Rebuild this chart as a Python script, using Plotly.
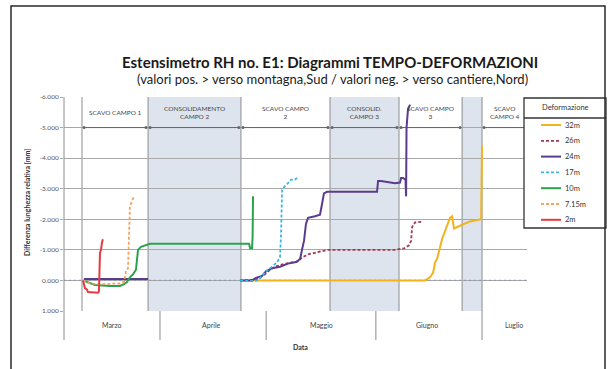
import pandas as pd
import plotly.graph_objects as go

# ---------------------------------------------------------------- data
x_start = "2010-03-04 21:00"
x_end = "2010-07-13 17:00"

y_tickvals = [-6, -5, -4, -3, -2, -1, 0, 1]
y_ticktext = ["-6.000", "-5.000", "-4.000", "-3.000", "-2.000", "-1.000", "0.000", "1.000"]

month_names = ["Marzo", "Aprile", "Maggio", "Giugno", "Luglio"]
month_starts = ["2010-04-01", "2010-05-01", "2010-06-01", "2010-07-01"]
month_label_dates = ["2010-03-18 10:00", "2010-04-15 12:00", "2010-05-16 12:00",
                     "2010-06-15 12:00", "2010-07-10 00:00"]

phase_names = ["SCAVO CAMPO 1", "CONSOLIDAMENTO<br>CAMPO 2", "SCAVO CAMPO<br>2",
               "CONSOLID.<br>CAMPO 3", "SCAVO CAMPO<br>3", "", "SCAVO<br>CAMPO 4"]
phase_starts = ["2010-03-09 23:00", "2010-03-28 15:00", "2010-04-23 21:00",
                "2010-05-19 01:00", "2010-06-07 13:00", "2010-06-25 09:00",
                "2010-07-01 00:00"]
phase_shaded = [False, True, False, True, False, True, False]

series_names = ["32m", "26m", "24m", "17m", "10m", "7.15m", "2m"]
series_colors = ["#F2B31E", "#A33A50", "#5A3C8F", "#3CB6E4", "#2CA24E", "#F5A55E", "#E63A40"]
series_dash = ["solid", "3px,2px", "solid", "3px,2px", "solid", "3px,2px", "solid"]

dates_32m = ["2010-04-23 15:00", "2010-06-14 22:00", "2010-06-16 07:00", "2010-06-17 04:00",
             "2010-06-17 18:00", "2010-06-18 07:00", "2010-06-19 17:00", "2010-06-21 03:00",
             "2010-06-21 23:00", "2010-06-22 13:00", "2010-06-23 02:00", "2010-06-25 09:00",
             "2010-06-27 15:00", "2010-06-30 18:00", "2010-07-01 00:00"]
vals_32m = [0.0, 0.0, -0.1, -0.25, -0.6, -0.7, -1.35, -1.8, -2.05, -2.1, -1.7, -1.82,
            -1.93, -2.0, -4.4]

dates_26m = ["2010-04-23 15:00", "2010-04-27 20:00", "2010-04-29 06:00", "2010-04-30 16:00",
             "2010-05-02 02:00", "2010-05-03 12:00", "2010-05-06 08:00", "2010-05-10 00:00",
             "2010-05-11 03:00", "2010-05-12 20:00", "2010-05-15 16:00", "2010-05-18 12:00",
             "2010-06-06 10:00", "2010-06-08 23:00", "2010-06-10 09:00", "2010-06-10 23:00",
             "2010-06-11 06:00", "2010-06-12 02:00", "2010-06-14 08:00"]
vals_26m = [0.0, -0.02, -0.1, -0.2, -0.35, -0.45, -0.55, -0.62, -0.75, -0.85, -0.93, -1.0,
            -1.0, -1.05, -1.15, -1.3, -1.75, -1.9, -1.92]

dates_24m = ["2010-03-10 12:00", "2010-03-28 15:00", None,
             "2010-04-23 15:00", "2010-04-27 00:00", "2010-04-28 03:00", "2010-04-29 20:00",
             "2010-04-30 23:00", "2010-05-02 16:00", "2010-05-04 22:00", "2010-05-07 04:00",
             "2010-05-09 11:00", "2010-05-10 14:00", "2010-05-11 03:00", "2010-05-11 17:00",
             "2010-05-12 06:00", "2010-05-12 20:00", "2010-05-14 19:00", "2010-05-16 05:00",
             "2010-05-16 19:00", "2010-05-17 08:00", "2010-05-18 05:00", "2010-06-01 08:00",
             "2010-06-01 15:00", "2010-06-02 11:00", "2010-06-06 10:00", "2010-06-07 20:00",
             "2010-06-08 03:00", "2010-06-08 16:00", "2010-06-09 09:00", "2010-06-09 13:00",
             "2010-06-09 16:00", "2010-06-10 02:00", "2010-06-10 16:00"]
vals_24m = [-0.05, -0.05, None,
            0.0, 0.0, -0.08, -0.15, -0.3, -0.4, -0.45, -0.55, -0.6, -0.7, -1.0, -1.3,
            -1.85, -2.05, -2.1, -2.15, -2.5, -2.85, -2.9, -2.9, -3.25, -3.25, -3.18, -3.2,
            -3.35, -3.35, -3.3, -2.75, -5.0, -5.6, -5.75]

dates_17m = ["2010-04-23 15:00", "2010-04-26 11:00", "2010-04-28 17:00", "2010-04-29 20:00",
             "2010-04-30 23:00", "2010-05-02 16:00", "2010-05-04 02:00", "2010-05-04 22:00",
             "2010-05-05 05:00", "2010-05-05 12:00", "2010-05-06 01:00", "2010-05-06 22:00",
             "2010-05-08 01:00", "2010-05-09 04:00", "2010-05-10 00:00"]
vals_17m = [0.0, 0.02, 0.0, -0.15, -0.3, -0.45, -0.6, -0.75, -1.5, -2.95, -3.05, -3.15,
            -3.3, -3.3, -3.38]

dates_10m = ["2010-03-10 06:00", "2010-03-12 05:00", "2010-03-13 15:00", "2010-03-17 21:00",
             "2010-03-20 17:00", "2010-03-21 20:00", "2010-03-22 16:00", "2010-03-23 12:00",
             "2010-03-24 09:00", "2010-03-25 05:00", "2010-03-25 12:00", "2010-03-25 19:00",
             "2010-03-26 15:00", "2010-03-27 18:00", "2010-03-29 04:00", "2010-04-12 07:00",
             "2010-04-26 04:00", "2010-04-26 11:00", "2010-04-27 00:00", "2010-04-27 04:00",
             "2010-04-27 07:00"]
vals_10m = [0.0, 0.1, 0.15, 0.18, 0.18, 0.12, 0.05, -0.1, -0.2, -0.35, -0.8, -1.0, -1.1,
            -1.15, -1.2, -1.2, -1.2, -1.05, -1.05, -1.4, -2.75]

dates_7m = ["2010-03-10 06:00", "2010-03-12 05:00", "2010-03-15 01:00", "2010-03-17 21:00",
            "2010-03-20 17:00", "2010-03-21 20:00", "2010-03-22 09:00", "2010-03-22 23:00",
            "2010-03-23 06:00", "2010-03-23 12:00", "2010-03-24 02:00", "2010-03-24 16:00"]
vals_7m = [0.0, 0.1, 0.12, 0.12, 0.1, 0.05, -0.3, -0.4, -1.5, -2.4, -2.6, -2.75]

dates_2m = ["2010-03-10 06:00", "2010-03-10 19:00", "2010-03-11 09:00", "2010-03-11 16:00",
            "2010-03-14 12:00", "2010-03-14 18:00", "2010-03-15 01:00", "2010-03-15 08:00",
            "2010-03-15 15:00", "2010-03-15 21:00"]
vals_2m = [0.0, 0.25, 0.3, 0.38, 0.4, 0.35, -0.9, -1.0, -1.25, -1.35]

series_dates = [dates_32m, dates_26m, dates_24m, dates_17m, dates_10m, dates_7m, dates_2m]
series_vals = [vals_32m, vals_26m, vals_24m, vals_17m, vals_10m, vals_7m, vals_2m]

# ------------------------------------------------------------- layout helpers
W, H = 616, 369
L, R, T, B = 64, 89, 97, 58
PW, PH = W - L - R, H - T - B
FONT = "Lato"


def px_x(px):
    return (px - L) / PW


def px_y(py):
    return (H - B - py) / PH


def label(x, y, text, size, xref="paper", yref="paper", color="#333333", **kw):
    opts = dict(x=x, y=y, xref=xref, yref=yref, text=text, showarrow=False,
                xanchor="center", yanchor="middle", font=dict(size=size, color=color))
    opts.update(kw)
    return opts


fig = go.Figure()

# zero reference line
fig.add_trace(go.Scatter(x=[x_start, x_end], y=[0, 0], mode="lines",
                         line=dict(color="#9098aa", width=1.2, dash="2px,3px"),
                         showlegend=False, hoverinfo="skip"))

# header arrows for each construction phase
phase_ends = phase_starts[1:] + [x_end]
pad = pd.Timedelta(hours=14)
for name, s, e in zip(phase_names, phase_starts, phase_ends):
    if not name:
        continue
    s, e = pd.Timestamp(s) + pad, pd.Timestamp(e) - pad
    fig.add_trace(go.Scatter(x=[s, e], y=[-5, -5], mode="lines+markers",
                             line=dict(color="#666666", width=1),
                             marker=dict(size=3, color="#666666"),
                             showlegend=False, hoverinfo="skip"))

# deformation series
for name, col, dash, xs, ys in zip(series_names, series_colors, series_dash,
                                   series_dates, series_vals):
    fig.add_trace(go.Scatter(x=xs, y=ys, mode="lines", name=name,
                             line=dict(color=col, width=2 if dash == "solid" else 1.8,
                                       dash=dash),
                             connectgaps=False, showlegend=False))

shapes = []
annotations = []

# phase bands, boundaries and labels
for name, s, e, shaded in zip(phase_names, phase_starts, phase_ends, phase_shaded):
    if shaded:
        shapes.append(dict(type="rect", xref="x", yref="paper", x0=s, x1=e, y0=0, y1=1,
                           fillcolor="#dde4ee", line=dict(width=0), layer="below"))
    shapes.append(dict(type="line", xref="x", yref="paper", x0=s, x1=s, y0=0, y1=1,
                       line=dict(color="#8c8c8c", width=1), layer="between"))
    if name:
        mid = pd.Timestamp(s) + (pd.Timestamp(e) - pd.Timestamp(s)) / 2
        annotations.append(label(mid, -5.5, name, 6.5, xref="x", yref="y",
                                 color="#444444", align="center"))

# month row under the plot
row_bottom = px_y(340)
shapes.append(dict(type="line", xref="paper", yref="paper", x0=0, x1=0, y0=row_bottom,
                   y1=1, line=dict(color="#8c8c8c", width=1)))
for m in month_starts:
    shapes.append(dict(type="line", xref="x", yref="paper", x0=m, x1=m, y0=0,
                       y1=row_bottom, line=dict(color="#8c8c8c", width=1)))
for name, d in zip(month_names, month_label_dates):
    annotations.append(label(d, px_y(325), name, 7, xref="x", color="#444444"))

annotations.append(label(px_x(300), px_y(347), "<b>Data</b>", 7))
annotations.append(label(px_x(27), px_y(203), "<b>Differenza lunghezza relativa [mm]</b>",
                         7, textangle=-90))

# titles
annotations.append(label(px_x(330), px_y(62),
                         "<b>Estensimetro RH no. E1: Diagrammi TEMPO-DEFORMAZIONI</b>",
                         15, color="#1a1a1a"))
annotations.append(label(px_x(332), px_y(79),
                         "(valori pos. > verso montagna,Sud / valori neg. > verso cantiere,Nord)",
                         13, color="#1a1a1a"))

# legend box
shapes.append(dict(type="rect", xref="paper", yref="paper", x0=px_x(524), x1=px_x(606),
                   y0=px_y(228), y1=px_y(98), line=dict(color="#333333", width=1.3),
                   fillcolor="white", layer="above"))
shapes.append(dict(type="line", xref="paper", yref="paper", x0=px_x(524), x1=px_x(606),
                   y0=px_y(118), y1=px_y(118), line=dict(color="#333333", width=1.3)))
annotations.append(label(px_x(565), px_y(108), "Deformazione", 7.5))
for i, (name, col, dash) in enumerate(zip(series_names, series_colors, series_dash)):
    yy = px_y(125 + i * 15.8)
    shapes.append(dict(type="line", xref="paper", yref="paper", x0=px_x(541),
                       x1=px_x(561), y0=yy, y1=yy, layer="above",
                       line=dict(color=col, width=2 if dash == "solid" else 1.8, dash=dash)))
    annotations.append(label(px_x(563), yy, name, 7.5, xanchor="left"))

# outer frame
shapes.append(dict(type="rect", xref="paper", yref="paper", x0=px_x(11), x1=px_x(605),
                   y0=px_y(375), y1=px_y(6), line=dict(color="#2a2a2a", width=1.5)))

fig.update_layout(
    width=W, height=H,
    margin=dict(l=L, r=R, t=T, b=B),
    paper_bgcolor="white", plot_bgcolor="white",
    font=dict(family=FONT, color="#333333"),
    showlegend=False,
    shapes=shapes, annotations=annotations,
    xaxis=dict(type="date", range=[x_start, x_end], showgrid=False,
               showticklabels=False, zeroline=False, showline=False, ticks=""),
    yaxis=dict(range=[1, -6], tickvals=y_tickvals, ticktext=y_ticktext,
               showgrid=True, gridcolor="#a8a8a8", gridwidth=1, zeroline=False,
               showline=False, ticks="outside", ticklen=3, tickcolor="#a8a8a8",
               tickfont=dict(size=6.5, color="#555555")),
)

fig.write_html("out.html")
